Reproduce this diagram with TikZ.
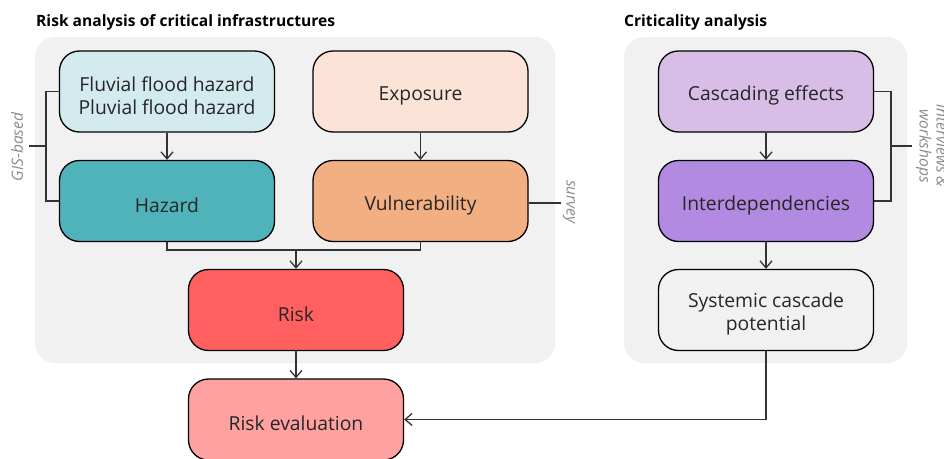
\documentclass[tikz,border=0pt]{standalone}
\usepackage{fontspec}
\setmainfont{Open Sans}
\usetikzlibrary{arrows.meta}

\definecolor{panelgray}{HTML}{F0F1F0}
\definecolor{linedark}{HTML}{333333}
\definecolor{notegray}{HTML}{8A8A8A}
\definecolor{fluvialc}{HTML}{D3EAEE}
\definecolor{exposurec}{HTML}{FBE4D7}
\definecolor{hazardc}{HTML}{50B3BA}
\definecolor{vulnc}{HTML}{F2AF82}
\definecolor{riskc}{HTML}{FF6160}
\definecolor{evalc}{HTML}{FFA1A0}
\definecolor{cascadec}{HTML}{D8BEE7}
\definecolor{interc}{HTML}{B28AE2}

\tikzset{
  box/.style={draw=black, line width=1.3pt, rounded corners=20pt,
    minimum width=215pt, minimum height=81pt, inner sep=0pt},
  boxtext/.style={align=center, inner sep=0pt,
    font=\fontsize{19.3}{23}\selectfont, text=black!85},
  panel/.style={fill=panelgray, rounded corners=20pt},
  heading/.style={font=\fontsize{15.6}{18}\selectfont\bfseries, anchor=base west, inner sep=0pt},
  flow/.style={draw=linedark, line width=1.3pt, -{Straight Barb[length=7pt,width=12pt,line width=1.3pt]}},
  link/.style={draw=linedark, line width=1.1pt},
  note/.style={font=\fontsize{15.5}{17}\selectfont\itshape, text=notegray, align=center}
}

\begin{document}
\begin{tikzpicture}[x=1pt,y=-1pt]
  \useasboundingbox (0,0) rectangle (944,458);

  % panels
  \fill[panel] (35,37) rectangle (555,363);
  \fill[panel] (624,37) rectangle (907,363);

  % headings
  \node[heading] (titleL) at (36,26) {Risk analysis of critical infrastructures};
  \node[heading] (titleR) at (624,26) {Criticality analysis};

  % risk analysis boxes
  \node[box, fill=fluvialc] (fluv) at (167,91.5) {};
  \node[box, fill=exposurec] (expo) at (420.5,91.5) {};
  \node[box, fill=hazardc] (haz) at (167,201) {};
  \node[box, fill=vulnc] (vuln) at (420.5,201) {};
  \node[box, fill=riskc] (risk) at (296,310) {};
  \node[box, fill=evalc] (eval) at (296,419.5) {};

  % criticality analysis boxes
  \node[box, fill=cascadec] (casc) at (766,91.5) {};
  \node[box, fill=interc] (inter) at (766,201) {};
  \node[box] (syst) at (766,310) {};

  % box labels, set slightly below the box centres
  \node[boxtext] (fluvT) at ([yshift=-4pt]fluv.center) {Fluvial flood hazard\\Pluvial flood hazard};
  \node[boxtext] (expoT) at ([yshift=-4pt]expo.center) {Exposure};
  \node[boxtext] (hazT) at ([yshift=-4pt]haz.center) {Hazard};
  \node[boxtext] (vulnT) at ([yshift=-4pt]vuln.center) {Vulnerability};
  \node[boxtext] (riskT) at ([yshift=-4pt]risk.center) {Risk};
  \node[boxtext] (evalT) at ([yshift=-4pt]eval.center) {Risk evaluation};
  \node[boxtext] (cascT) at ([yshift=-4pt]casc.center) {Cascading effects};
  \node[boxtext] (interT) at ([yshift=-4pt]inter.center) {Interdependencies};
  \node[boxtext] (systT) at ([yshift=-4pt]syst.center) {Systemic cascade\\potential};

  % arrows
  \draw[flow] (fluv) -- (haz);
  \draw[flow] (expo) -- (vuln);
  \coordinate (join) at (296,250);
  \draw[link] (haz.south) |- (join) -| (vuln.south);
  \draw[flow] (join) -- (risk);
  \draw[flow] (risk) -- (eval);
  \draw[flow] (casc) -- (inter);
  \draw[flow] (inter) -- (syst);
  \draw[flow] (syst.south) |- (eval.east);

  % method brackets
  \coordinate (gisB) at (46,146);
  \coordinate (gisT) at (29,146);
  \draw[link] (fluv.west) -| (gisB) |- (haz.west);
  \draw[link] (gisB) -- (gisT);
  \node[note, rotate=90] (gis) at (17,147) {GIS-based};

  \coordinate (survT) at (561,203);
  \draw[link] ([yshift=-2pt]vuln.east) -- (survT);
  \node[note, rotate=-90] (surv) at (569,202) {survey};

  \coordinate (intB) at (891,146);
  \coordinate (intT) at (912,146);
  \draw[link] (casc.east) -| (intB) |- (inter.east);
  \draw[link] (intB) -- (intT);
  \node[note, rotate=-90] (intv) at (932,146) {interviews \&\\workshops};
\end{tikzpicture}
\end{document}
